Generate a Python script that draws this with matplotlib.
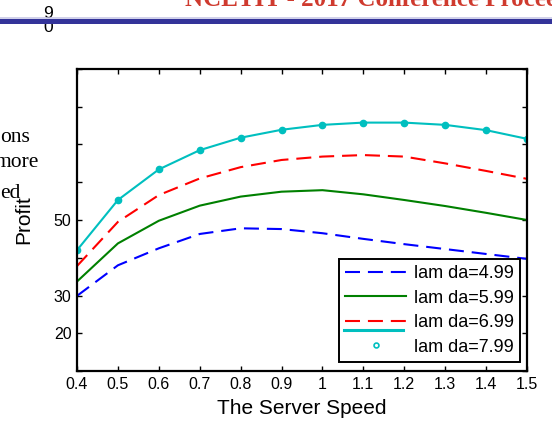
import matplotlib
matplotlib.use("Agg")
import matplotlib.pyplot as plt
from matplotlib.lines import Line2D

plt.rcParams['font.family'] = ['Liberation Sans', 'DejaVu Sans']

# Profit versus server speed for four arrival rates
speed = [0.4, 0.5, 0.6, 0.7, 0.8, 0.9, 1.0, 1.1, 1.2, 1.3, 1.4, 1.5]
profit_499 = [29.9, 38.0, 42.5, 46.3, 47.8, 47.6, 46.5, 45.0, 43.6, 42.3, 41.0, 39.7]
profit_599 = [33.7, 43.8, 49.8, 53.8, 56.2, 57.5, 57.9, 56.8, 55.3, 53.7, 51.9, 50.0]
profit_699 = [37.8, 49.5, 56.6, 61.0, 64.0, 65.9, 66.8, 67.2, 66.8, 65.0, 63.0, 60.9]
profit_799 = [42.0, 55.3, 63.4, 68.5, 71.8, 73.9, 75.2, 75.8, 75.8, 75.2, 73.8, 71.5]

series_labels = ['lam da=4.99', 'lam da=5.99', 'lam da=6.99', 'lam da=7.99']

x_ticks = [0.4, 0.5, 0.6, 0.7, 0.8, 0.9, 1.0, 1.1, 1.2, 1.3, 1.4, 1.5]
x_ticklabels = ['0.4', '0.5', '0.6', '0.7', '0.8', '0.9', '1', '1.1', '1.2', '1.3', '1.4', '1.5']
y_ticks = [10, 20, 30, 40, 50, 60, 70, 80, 90]
y_ticklabels = ['', '20', '30', '', '50', '', '', '', '']

W, H = 552, 423
fig = plt.figure(figsize=(W / 100, H / 100), dpi=100)

# ---- page furniture around the figure ----
fig.text(185 / W, 1 - 6 / H, 'NCETIT - 2017 Conference Proceedings',
         family='Liberation Serif', weight='bold', fontsize=18,
         color='#cf3a2e', ha='left', va='baseline', zorder=1)
fig.text(48 / W, 1 - 18 / H, '9', fontsize=12.5, ha='center', va='baseline', zorder=1)
fig.text(48 / W, 1 - 32 / H, '0', fontsize=12.5, ha='center', va='baseline', zorder=1)
fig.add_artist(Line2D([0, 1], [1 - 18.2 / H] * 2, transform=fig.transFigure,
                      color='#c4c4e4', lw=1.1, zorder=4))
fig.add_artist(Line2D([0, 1], [1 - 21.5 / H] * 2, transform=fig.transFigure,
                      color='#333399', lw=3.6, zorder=5))
for txt, x0, base in [('ons', 0, 142), ('more', -5.5, 167), ('ed', 0, 198)]:
    fig.text(x0 / W, 1 - base / H, txt, family='Liberation Serif', fontsize=15.5,
             ha='left', va='baseline', zorder=1)

# ---- chart ----
ax = fig.add_axes([77 / W, 52 / H, 450 / W, 302 / H])
dash = (7.2, 3.8)
ax.plot(speed, profit_499, color='#0000ff', lw=1.5, dashes=dash)
ax.plot(speed, profit_599, color='#008000', lw=1.5)
ax.plot(speed, profit_699, color='#ff0000', lw=1.5, dashes=dash)
ax.plot(speed, profit_799, color='#00bfbf', lw=1.5, marker='o', ms=4.5)

ax.set_xlim(0.4, 1.5)
ax.set_ylim(10, 90)
ax.set_xticks(x_ticks)
ax.set_xticklabels(x_ticklabels)
ax.set_yticks(y_ticks)
ax.set_yticklabels(y_ticklabels)
ax.tick_params(direction='in', top=True, right=True, length=3.6, width=1.0,
               labelsize=11.5, pad=4)
for s in ax.spines.values():
    s.set_linewidth(1.6)

ax.set_xlabel('The Server Speed', fontsize=15, labelpad=5)
ax.set_ylabel('Profit', fontsize=15)
ax.yaxis.set_label_coords(-0.098, 0.5)

handles = [
    Line2D([], [], color='#0000ff', lw=1.5, dashes=dash),
    Line2D([], [], color='#008000', lw=1.5),
    Line2D([], [], color='#ff0000', lw=1.5, dashes=dash),
    Line2D([], [], color='#00bfbf', ls='none', marker='o', ms=3.5,
           mfc='white', mew=1.2),
]
leg = ax.legend(handles, series_labels, loc='lower right',
                bbox_to_anchor=(0.9844, 0.0298), borderaxespad=0,
                fontsize=13, handlelength=3.4, handletextpad=0.4,
                borderpad=0.35, labelspacing=0.42, numpoints=1,
                fancybox=False, framealpha=1, edgecolor='black')
leg.get_frame().set_linewidth(1.4)

# extra cyan stroke under the third legend entry
ax.plot([0.593, 0.7244], [0.1358, 0.1358], transform=ax.transAxes,
        color='#00bfbf', lw=2.2, clip_on=False, zorder=6)

fig.savefig('out.png', dpi=100)
